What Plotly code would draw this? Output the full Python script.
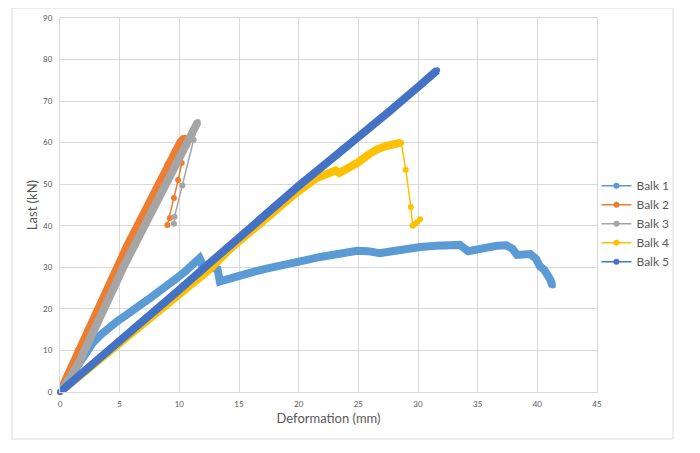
import plotly.graph_objects as go

# Deformation (mm) and load (kN) per beam
balk1_x = [0, 0.5, 1.0, 1.6, 2.2, 2.8, 3.35, 4.0, 4.75, 5.5, 6.0, 6.7, 7.5, 8.3, 9.0, 9.6,
           10.06, 10.6, 11.1, 11.45, 11.7, 11.8, 11.9, 12.4, 12.9, 13.2, 13.4, 14.0, 15.1, 16.2,
           17.3, 18.5, 19.8, 20.7, 21.8, 22.9, 24.0, 24.9, 25.8, 26.8, 27.7, 28.5, 29.6,
           30.2, 31.5, 32.5, 33.5, 34.2, 35.0, 35.8, 36.6, 37.4, 37.9, 38.3, 38.9, 39.4,
           39.9, 40.2, 40.6, 40.9, 41.1, 41.2, 41.3]
balk1_y = [0, 2.2, 4.5, 7.3, 10.2, 12.0, 13.6, 15.3, 16.9, 18.4, 19.6, 20.9, 22.5, 24.1, 25.5,
           26.7, 28.0, 29.3, 30.6, 31.6, 32.2, 31.6, 30.6, 30.2, 29.9, 29.5, 26.6, 27.2, 28.2, 28.9,
           29.7, 30.3, 31.0, 31.8, 32.5, 33.1, 33.6, 34.0, 33.9, 33.4, 33.8, 34.2, 34.7,
           34.9, 35.2, 35.3, 35.4, 33.9, 34.4, 34.9, 35.2, 35.3, 34.5, 33.0, 33.2, 33.2,
           32.0, 30.3, 29.3, 28.3, 27.0, 26.0, 25.6]
balk1_dense = len(balk1_x)

balk2_x = [0, 0.5, 1.0, 1.5, 2.3, 3.15, 4.0, 4.8, 5.6, 6.5, 7.4, 8.2, 9.0, 9.6, 10.1, 10.45,
           10.3, 10.2, 9.9, 9.55, 9.2, 9.0]
balk2_y = [0, 3.2, 6.6, 10.0, 15.0, 20.0, 25.0, 30.0, 35.0, 40.0, 45.0, 50.0, 54.8, 58.0,
           60.2, 61.2, 58.4, 55.1, 51.0, 46.7, 41.9, 40.2]
balk2_dense = 16

balk3_x = [0, 0.5, 1.0, 1.7, 2.5, 3.6, 4.5, 5.3, 6.2, 7.1, 8.0, 8.8, 9.7, 10.6, 11.2, 11.55,
           11.2, 10.25, 9.6, 9.55]
balk3_y = [0, 2.0, 4.2, 7.8, 13.0, 20.0, 25.0, 30.0, 35.0, 40.0, 45.0, 50.0, 55.0, 60.0,
           63.0, 65.0, 60.7, 49.7, 42.2, 40.5]
balk3_dense = 16

balk4_x = [0, 2.5, 5.0, 7.5, 10.0, 12.5, 14.25, 16.0, 17.5, 19.84, 21.5, 22.6, 23.1, 23.4,
           24.2, 24.9, 25.7, 26.5, 27.3, 28.0, 28.6, 28.97, 29.4, 29.55, 29.75, 29.95, 30.17]
balk4_y = [0, 5.8, 11.6, 17.5, 23.4, 29.4, 34.4, 38.7, 42.3, 48.0, 51.5, 52.8, 53.3, 52.7,
           53.9, 55.1, 56.8, 58.3, 59.2, 59.6, 60.0, 53.5, 44.5, 40.0, 40.4, 40.9, 41.6]
balk4_dense = 21

balk5_x = [0, 2.5, 5.0, 7.5, 10.0, 12.5, 15.0, 17.5, 20.0, 23.2, 25.0, 27.5, 30.0, 31.3, 31.6]
balk5_y = [0, 6.0, 12.2, 18.3, 24.6, 30.9, 37.2, 43.4, 49.6, 57.1, 61.2, 67.3, 73.4, 76.7, 77.4]
balk5_dense = len(balk5_x)

series = [
    ("Balk 1", balk1_x, balk1_y, balk1_dense, "#5B9BD5"),
    ("Balk 2", balk2_x, balk2_y, balk2_dense, "#ED7D31"),
    ("Balk 3", balk3_x, balk3_y, balk3_dense, "#A5A5A5"),
    ("Balk 4", balk4_x, balk4_y, balk4_dense, "#FFC000"),
    ("Balk 5", balk5_x, balk5_y, balk5_dense, "#4472C4"),
]

fig = go.Figure()
for name, xs, ys, n, col in series:
    # dense measurement part -> thick band
    fig.add_trace(go.Scatter(x=xs[:n], y=ys[:n], mode="lines", line=dict(color=col, width=8),
                             showlegend=False, legendgroup=name, hoverinfo="skip", cliponaxis=False))
    fig.add_trace(go.Scatter(x=xs, y=ys, name=name, mode="lines+markers", legendgroup=name,
                             line=dict(color=col, width=1.5), marker=dict(color=col, size=6),
                             cliponaxis=False))

grid = "#D9D9D9"
txt = "#595959"
# page body adds an 8px offset, so margins are shifted by that amount
fig.update_layout(
    width=700, height=453,
    margin=dict(l=52, r=111, t=10, b=69),
    paper_bgcolor="white", plot_bgcolor="white",
    font=dict(family="Lato, Liberation Sans, sans-serif", color=txt),
    xaxis=dict(range=[0, 45], dtick=5, showgrid=True, gridcolor=grid, zeroline=False,
               showline=True, mirror=True, linecolor=grid, ticks="", automargin=False,
               ticklabelstandoff=4, tickfont=dict(size=8, color=txt),
               title=dict(text="Deformation (mm)", font=dict(size=13, color=txt), standoff=6)),
    yaxis=dict(range=[0, 90], dtick=10, showgrid=True, gridcolor=grid, zeroline=False,
               showline=True, mirror=True, linecolor=grid, ticks="", automargin=False,
               ticklabelstandoff=5, tickfont=dict(size=8, color=txt),
               title=dict(text="Last (kN)", font=dict(size=13, color=txt), standoff=2)),
    legend=dict(x=0.999, y=0.45, yanchor="middle", xanchor="left", bgcolor="rgba(0,0,0,0)",
                font=dict(size=12, color=txt), itemwidth=30, tracegroupgap=0),
    shapes=[dict(type="rect", xref="paper", yref="paper", x0=-0.0894, x1=1.1415,
                 y0=-0.1257, y1=1.0267, line=dict(color=grid, width=1), layer="below")],
)

fig.write_html("out.html")
